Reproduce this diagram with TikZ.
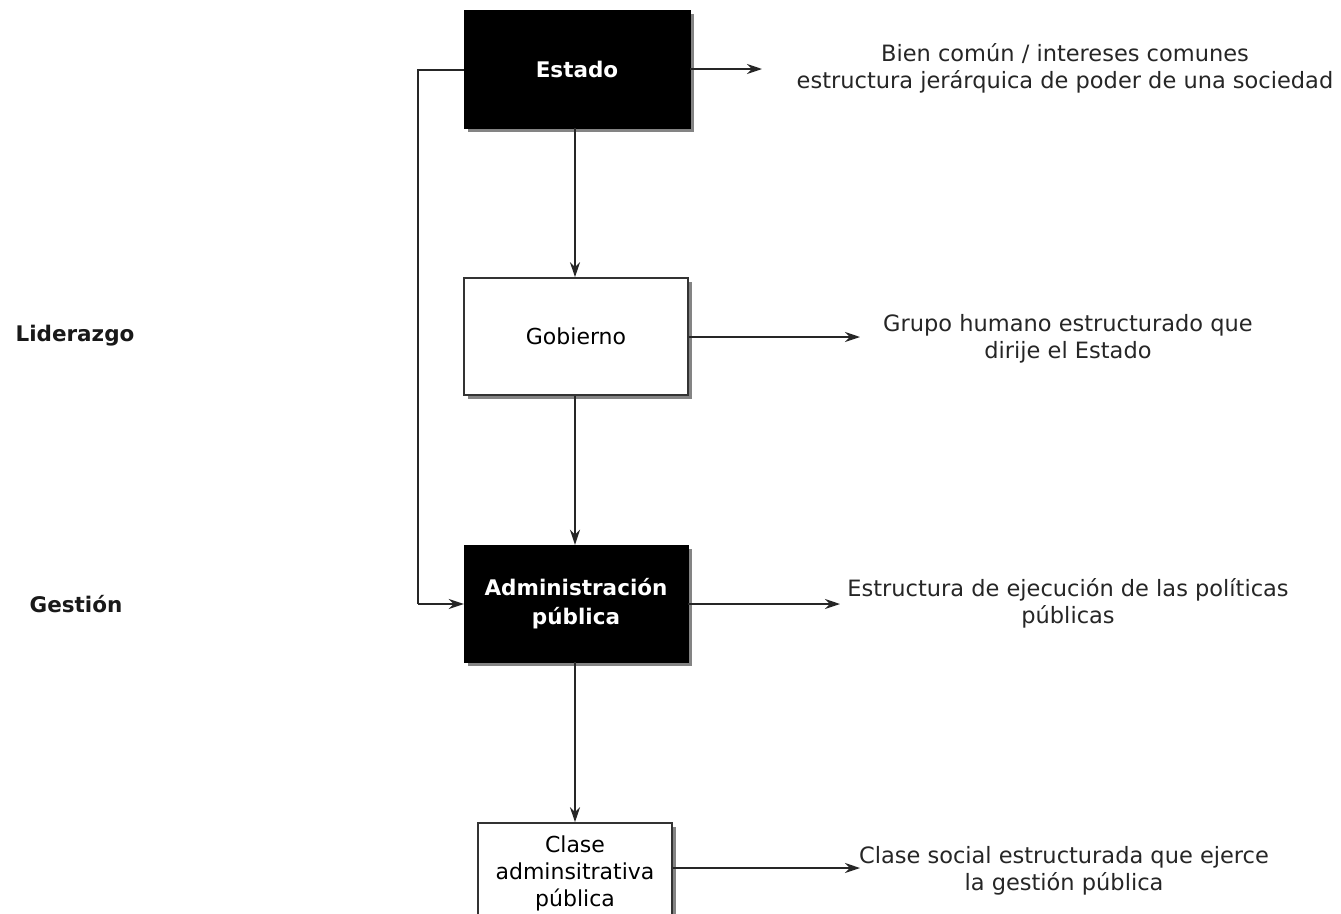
\documentclass[tikz,border=0pt]{standalone}
\usepackage{fontspec}
\setmainfont{DejaVu Sans}
\usetikzlibrary{arrows.meta,shadows}
\begin{document}
\begin{tikzpicture}[x=1pt,y=-1pt,
  conn/.style={line width=1.9pt,draw=black!85,-{Stealth[length=15pt,width=10pt]}},
  plain/.style={line width=1.9pt,draw=black!85},
  darkbox/.style={draw=black,fill=black,text=white,font=\bfseries\fontsize{21.5}{29}\selectfont,align=center,inner sep=0pt,
     drop shadow={shadow xshift=4pt,shadow yshift=-4pt,fill=black!60,opacity=0.8}},
  lightbox/.style={draw=black!80,line width=1.6pt,fill=white,text=black,font=\fontsize{22}{27}\selectfont,align=center,inner sep=0pt,
     drop shadow={shadow xshift=4pt,shadow yshift=-4pt,fill=black!60,opacity=0.8}},
  desc/.style={font=\fontsize{22.5}{27}\selectfont,align=center,text=black!85,inner sep=0pt},
  side/.style={font=\bfseries\fontsize{21.5}{26}\selectfont,text=black!90,inner sep=0pt}]
\useasboundingbox[fill=white] (0,0) rectangle (1341,913);

\node[darkbox,minimum width=226pt,minimum height=118pt] (estado) at (577,69) {Estado};
\node[lightbox,minimum width=224pt,minimum height=117pt] (gob) at (576,336.5) {Gobierno};
\node[darkbox,minimum width=224pt,minimum height=117pt] (adm) at (576,603.5) {Administración\\pública};
\node[lightbox,minimum width=194pt,minimum height=100pt] (clase) at (575,873) {Clase\\adminsitrativa\\pública};

\node[desc] (d1) at (1065,68.5) {Bien común / intereses comunes\\estructura jerárquica de poder de una sociedad};
\node[desc] (d2) at (1068,338.5) {Grupo humano estructurado que\\dirije el Estado};
\node[desc] (d3) at (1068,603.5) {Estructura de ejecución de las políticas\\públicas};
\node[desc] (d4) at (1064,870.5) {Clase social estructurada que ejerce\\la gestión pública};

\node[side] (lid) at (75,336) {Liderazgo};
\node[side] (ges) at (76,604) {Gestión};

\coordinate (e1) at (762,69);
\coordinate (e2) at (860,337);
\coordinate (e3) at (840,604);
\coordinate (e4) at (860,868);
\coordinate (lt) at (418,70);
\coordinate (lb) at (418,604);

\draw[conn] (estado.south -| 575,0) -- (gob.north -| 575,0);
\draw[conn] (gob.south -| 575,0) -- (adm.north -| 575,0);
\draw[conn] (adm.south -| 575,0) -- (clase.north -| 575,0);

\draw[plain] (estado.west |- lt) -- (lt) -- (lb);
\draw[conn] (lb) -- (adm.west |- lb);

\draw[conn] (estado.east |- e1) -- (e1);
\draw[conn] (gob.east |- e2) -- (e2);
\draw[conn] (adm.east |- e3) -- (e3);
\draw[conn] (clase.east |- e4) -- (e4);
\end{tikzpicture}
\end{document}
